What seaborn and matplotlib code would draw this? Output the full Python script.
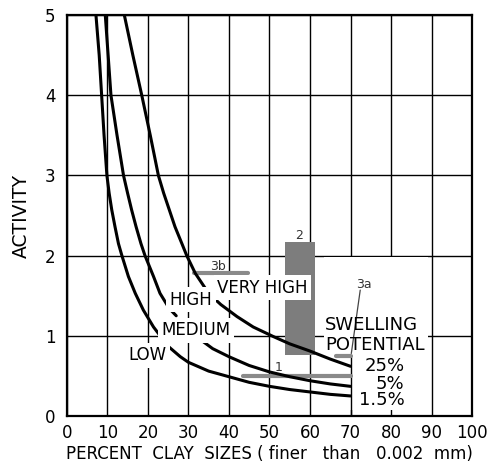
import numpy as np
import pandas as pd
import seaborn as sns
import matplotlib.pyplot as plt
from matplotlib.patches import Rectangle

# ============================
#  data
# ============================

# swelling potential curves (clay %, activity)
clay_25 = [14.2, 16.3, 18.5, 20.6, 22.6, 23.9, 25.3, 26.7, 28.4, 29.6, 31.7, 35, 38, 42, 46, 51, 55, 60, 65, 70]
act_25 = [5.0, 4.5, 4.0, 3.5, 3.0, 2.78, 2.57, 2.36, 2.15, 2.0, 1.78, 1.53, 1.39, 1.24, 1.11, 0.99, 0.9, 0.81, 0.71, 0.62]

clay_5a = [9.5, 10.2, 10.9, 12.4, 14.0, 15.0, 16.0, 17.1, 18.3, 19.3, 21.4, 23.0, 25.3, 27.0]
act_5a = [5.0, 4.5, 4.0, 3.5, 3.0, 2.78, 2.57, 2.36, 2.15, 2.0, 1.74, 1.53, 1.34, 1.25]
clay_5b = [32.5, 36, 40, 45, 50, 55, 60, 65, 70]
act_5b = [0.97, 0.84, 0.74, 0.63, 0.55, 0.49, 0.44, 0.4, 0.37]

clay_15 = [7.2, 8.0, 8.6, 9.2, 9.9, 10.45, 11.1, 11.9, 12.75, 13.6, 15.2, 16.9, 18.9, 21.4, 25, 28, 30, 35, 40, 45, 50, 55, 60, 65, 70]
act_15 = [5.0, 4.5, 4.0, 3.5, 3.0, 2.78, 2.57, 2.36, 2.15, 2.0, 1.74, 1.53, 1.32, 1.11, 0.87, 0.74, 0.67, 0.56, 0.49, 0.42, 0.37, 0.33, 0.3, 0.27, 0.25]

# zone labels
zone_names = ['LOW', 'MEDIUM', 'HIGH', 'VERY HIGH']
zone_x = [19.9, 31.9, 30.7, 48.3]
zone_y = [0.76, 1.07, 1.45, 1.60]

pct_labels = ['25%', '5%', '1.5%']
pct_y = [0.62, 0.405, 0.20]

# data sets 1, 2, 3a, 3b
bar1 = (43.6, 70.0, 0.50)
box2 = (53.9, 61.3, 0.76, 2.17)
bar3a = (66.5, 70.0, 0.75)
bar3b = (31.5, 44.8, 1.78)

xticks = list(range(0, 101, 10))
yticks = list(range(0, 6))

# ============================
#  figure
# ============================

sns.set_style('white')
plt.rcParams['font.family'] = ['DejaVu Sans']
plt.rcParams['text.color'] = 'black'
plt.rcParams['axes.labelcolor'] = 'black'
plt.rcParams['xtick.color'] = 'black'
plt.rcParams['ytick.color'] = 'black'

curves = pd.concat([
    pd.DataFrame({'clay': clay_25, 'activity': act_25, 'seg': '25'}),
    pd.DataFrame({'clay': clay_5a, 'activity': act_5a, 'seg': '5a'}),
    pd.DataFrame({'clay': clay_5b, 'activity': act_5b, 'seg': '5b'}),
    pd.DataFrame({'clay': clay_15, 'activity': act_15, 'seg': '15'}),
])

fig = plt.figure(figsize=(4.91, 4.63), dpi=100)
ax = fig.add_axes([0.136, 0.1015, 0.8255, 0.866])

sns.lineplot(data=curves, x='clay', y='activity', units='seg', estimator=None,
             sort=False, color='black', lw=2.2, ax=ax, zorder=4)

ax.set_xlim(0, 100)
ax.set_ylim(0, 5)
ax.set_xticks(xticks)
ax.set_yticks(yticks)
ax.set_xticklabels([str(t) for t in xticks], fontsize=12)
ax.set_yticklabels([str(t) for t in yticks], fontsize=12)
ax.tick_params(axis='x', length=0, pad=6)
ax.tick_params(axis='y', length=0, pad=8)
ax.grid(True, color='black', lw=1.0)
ax.set_axisbelow(True)
for s in ax.spines.values():
    s.set_color('black')
    s.set_linewidth(1.6)

ax.set_xlabel('PERCENT  CLAY  SIZES ( finer   than   0.002  mm)', fontsize=12, labelpad=2)
ax.set_ylabel('ACTIVITY', fontsize=13.5, labelpad=10)

# blank area behind the swelling potential legend
ax.add_patch(Rectangle((63.5, 0.08), 25.5, 1.9, facecolor='white', edgecolor='none', zorder=1))
ax.plot([70, 70], [0, 0.76], color='black', lw=1.0, zorder=2)

gray = '#7d7d7d'
# data set boxes / bars
ax.add_patch(Rectangle((box2[0], box2[2]), box2[1] - box2[0], box2[3] - box2[2],
                       color=gray, zorder=3, lw=0))
ax.plot([bar1[0], bar1[1]], [bar1[2], bar1[2]], color='#8a8a8a', lw=3, zorder=3)
ax.plot([bar3a[0], bar3a[1]], [bar3a[2], bar3a[2]], color='#8a8a8a', lw=3, zorder=3)
ax.plot([bar3b[0], bar3b[1]], [bar3b[2], bar3b[2]], color='#8a8a8a', lw=3, zorder=3)
ax.plot([72.4, 70.2], [1.57, 0.78], color='#444444', lw=0.9, zorder=3)

small = dict(fontsize=9, color='#333333', ha='center', va='center', zorder=6)
ax.text(52.2, 0.61, '1', **small)
ax.text(57.2, 2.25, '2', **small)
ax.text(73.3, 1.64, '3a', **small)
ax.text(37.4, 1.87, '3b', **small)

box = dict(facecolor='white', edgecolor='none', pad=2.5)
for name, x, y in zip(zone_names, zone_x, zone_y):
    ax.text(x, y, name, fontsize=12, ha='center', va='center', bbox=box, zorder=5)

ax.text(63.8, 1.13, 'SWELLING', fontsize=13, ha='left', va='center', zorder=5)
ax.text(63.8, 0.89, 'POTENTIAL', fontsize=13, ha='left', va='center', zorder=5)
for lab, y in zip(pct_labels, pct_y):
    ax.text(83.3, y, lab, fontsize=13, ha='right', va='center', zorder=5)

fig.savefig('out.png', dpi=100)
